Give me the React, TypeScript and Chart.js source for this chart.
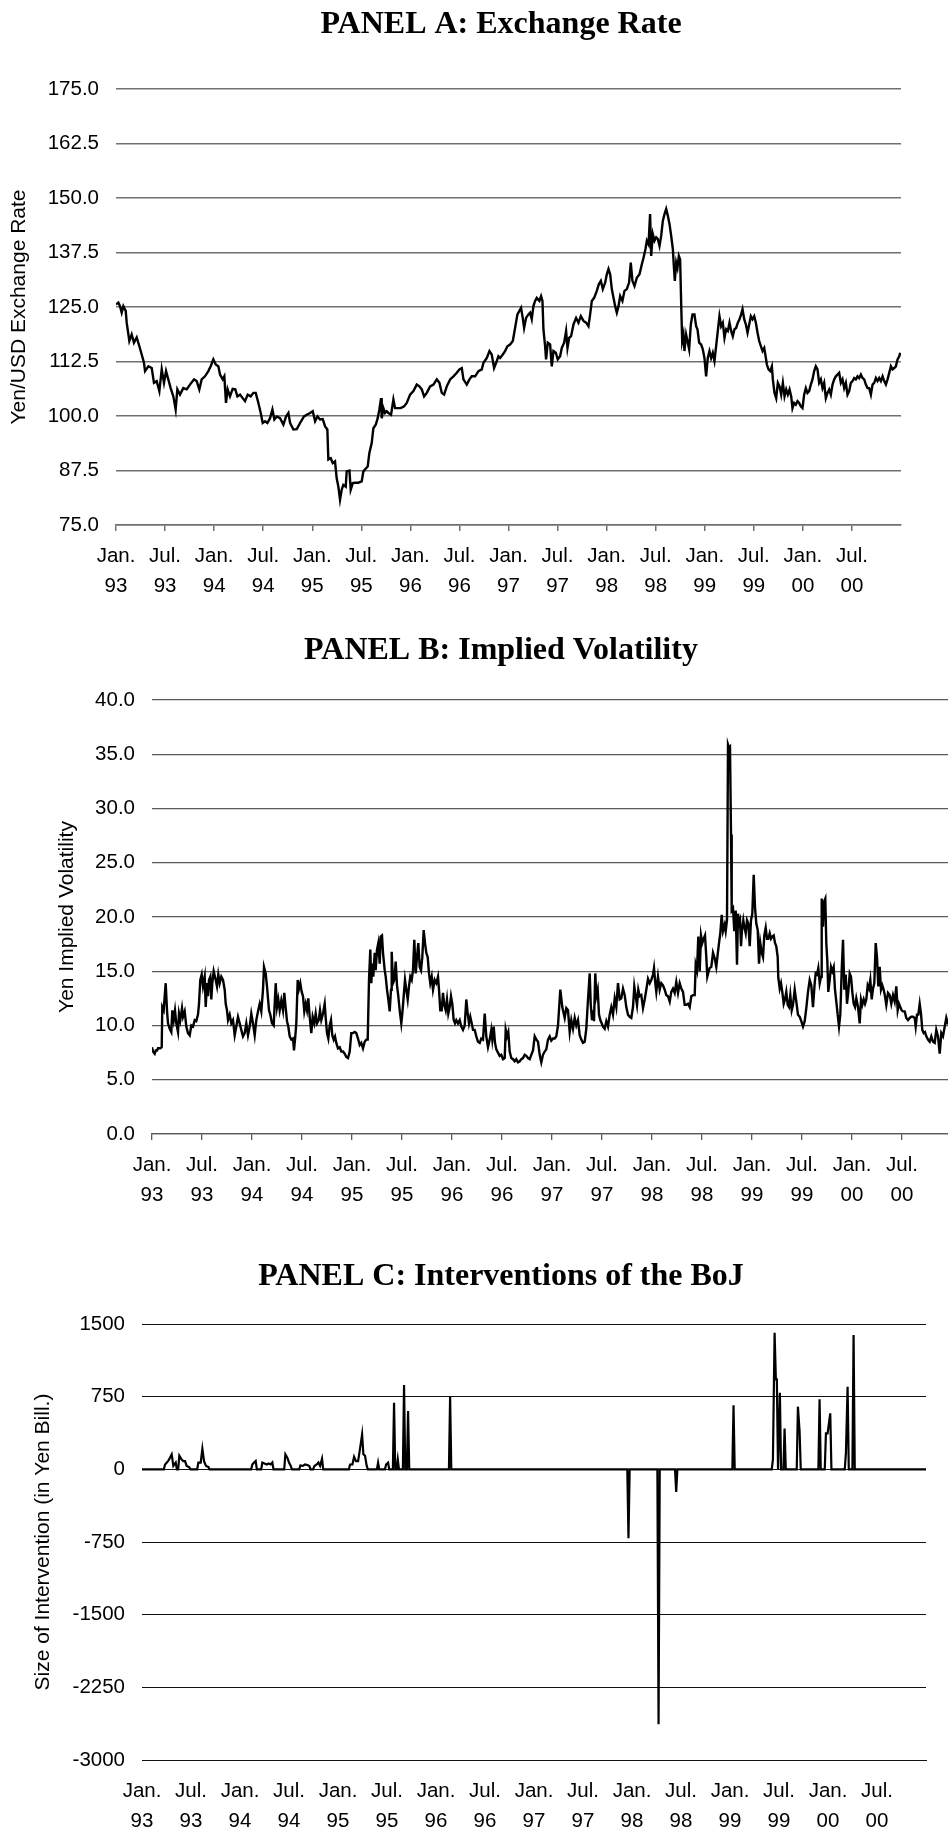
import React, { useEffect, useRef } from 'react';
import { Chart, registerables } from 'chart.js';

Chart.register(...registerables);

// ---------- DATA (years since Jan. 1993) ----------
const xTickMonths = ['Jan.', 'Jul.'];
const xTickFirstYear = 93;

const fxYears = [
  0.000, 0.024, 0.041, 0.058, 0.075, 0.099, 0.109, 0.136, 0.160, 0.183, 0.211, 0.238, 0.262, 0.285, 0.296, 0.330,
  0.364, 0.387, 0.415, 0.442, 0.466, 0.489, 0.510, 0.533, 0.557, 0.584, 0.608, 0.625, 0.652, 0.686, 0.720, 0.754,
  0.795, 0.822, 0.849, 0.873, 0.907, 0.941, 0.965, 0.992, 1.016, 1.043, 1.060, 1.087, 1.104, 1.121, 1.138, 1.162,
  1.189, 1.216, 1.237, 1.264, 1.291, 1.315, 1.342, 1.373, 1.400, 1.424, 1.451, 1.475, 1.495, 1.519, 1.543, 1.570,
  1.594, 1.614, 1.638, 1.672, 1.706, 1.733, 1.757, 1.774, 1.808, 1.842, 1.876, 1.916, 1.944, 1.978, 2.005, 2.029,
  2.053, 2.080, 2.107, 2.131, 2.154, 2.164, 2.188, 2.209, 2.232, 2.249, 2.266, 2.283, 2.300, 2.317, 2.341, 2.351,
  2.379, 2.392, 2.413, 2.436, 2.470, 2.504, 2.521, 2.548, 2.565, 2.582, 2.606, 2.623, 2.647, 2.667, 2.684, 2.701,
  2.708, 2.725, 2.742, 2.759, 2.776, 2.803, 2.827, 2.844, 2.868, 2.902, 2.936, 2.963, 2.997, 3.031, 3.065, 3.092,
  3.116, 3.140, 3.167, 3.201, 3.235, 3.269, 3.296, 3.320, 3.344, 3.371, 3.405, 3.439, 3.473, 3.500, 3.524, 3.541,
  3.575, 3.602, 3.626, 3.660, 3.694, 3.728, 3.745, 3.779, 3.806, 3.829, 3.853, 3.874, 3.897, 3.914, 3.942, 3.965,
  3.989, 4.016, 4.044, 4.067, 4.091, 4.111, 4.128, 4.145, 4.159, 4.179, 4.203, 4.220, 4.237, 4.254, 4.271, 4.288,
  4.315, 4.332, 4.346, 4.356, 4.373, 4.383, 4.400, 4.424, 4.441, 4.458, 4.482, 4.502, 4.526, 4.543, 4.567, 4.587,
  4.601, 4.618, 4.638, 4.662, 4.689, 4.713, 4.737, 4.764, 4.791, 4.815, 4.832, 4.849, 4.873, 4.900, 4.920, 4.941,
  4.961, 4.985, 5.002, 5.019, 5.036, 5.053, 5.070, 5.087, 5.104, 5.121, 5.138, 5.161, 5.182, 5.206, 5.229, 5.246,
  5.263, 5.284, 5.308, 5.335, 5.359, 5.376, 5.396, 5.410, 5.427, 5.443, 5.454, 5.471, 5.488, 5.505, 5.522, 5.539,
  5.556, 5.573, 5.590, 5.607, 5.624, 5.641, 5.658, 5.675, 5.685, 5.695, 5.709, 5.722, 5.736, 5.749, 5.760, 5.770,
  5.783, 5.793, 5.810, 5.824, 5.841, 5.858, 5.875, 5.895, 5.912, 5.926, 5.943, 5.963, 5.980, 5.997, 6.014, 6.031,
  6.048, 6.065, 6.082, 6.099, 6.116, 6.133, 6.150, 6.167, 6.184, 6.201, 6.218, 6.235, 6.252, 6.269, 6.286, 6.303,
  6.320, 6.337, 6.354, 6.371, 6.385, 6.402, 6.419, 6.436, 6.453, 6.470, 6.487, 6.504, 6.521, 6.538, 6.555, 6.572,
  6.589, 6.606, 6.623, 6.633, 6.650, 6.667, 6.684, 6.694, 6.711, 6.728, 6.745, 6.762, 6.779, 6.796, 6.813, 6.830,
  6.847, 6.864, 6.881, 6.894, 6.911, 6.928, 6.945, 6.962, 6.979, 6.996, 7.013, 7.030, 7.047, 7.064, 7.081, 7.098,
  7.115, 7.132, 7.149, 7.166, 7.183, 7.200, 7.217, 7.234, 7.251, 7.268, 7.285, 7.302, 7.319, 7.336, 7.353, 7.370,
  7.387, 7.404, 7.421, 7.438, 7.455, 7.472, 7.489, 7.506, 7.523, 7.540, 7.557, 7.574, 7.591, 7.608, 7.625, 7.642,
  7.659, 7.676, 7.693, 7.710, 7.727, 7.744, 7.761, 7.778, 7.795, 7.812, 7.829, 7.846, 7.863, 7.880, 7.897, 7.914,
  7.931, 7.948, 7.965, 7.982, 7.992,
];
const fxRates = [
  125.6, 126.0, 125.2, 123.7, 125.2, 124.1, 121.4, 117.2, 118.7, 116.8, 118.0, 116.0, 114.1, 112.2, 110.3, 111.4,
  111.0, 107.6, 108.0, 105.7, 110.7, 107.6, 110.3, 108.4, 106.4, 104.5, 101.5, 106.1, 104.9, 106.4, 106.1, 107.2,
  108.4, 108.0, 106.1, 108.4, 109.1, 110.3, 111.4, 113.0, 111.8, 111.4, 109.5, 108.4, 109.1, 103.0, 106.1, 104.5,
  106.2, 106.1, 104.5, 104.9, 104.1, 103.4, 104.9, 104.5, 105.3, 105.3, 103.0, 100.7, 98.4, 98.8, 98.4, 99.5,
  101.5, 99.2, 99.9, 99.5, 98.0, 99.9, 100.7, 98.4, 96.9, 97.0, 98.4, 99.9, 100.3, 100.7, 101.1, 98.8,
  99.9, 99.2, 99.3, 97.6, 96.9, 90.0, 90.3, 89.2, 89.6, 85.7, 83.8, 80.8, 83.1, 84.2, 83.8, 87.3,
  87.5, 83.1, 84.6, 84.7, 84.7, 85.0, 87.3, 88.0, 88.4, 91.5, 93.8, 97.2, 98.0, 99.5, 101.5, 104.1,
  99.5, 101.8, 100.7, 101.1, 100.7, 100.3, 103.8, 101.8, 101.8, 101.8, 102.2, 103.0, 104.9, 105.7, 107.2, 106.8,
  106.1, 104.5, 105.3, 106.8, 107.2, 108.4, 107.6, 105.3, 104.9, 106.8, 108.4, 109.1, 109.9, 110.7, 111.0, 108.4,
  107.2, 108.4, 109.1, 109.1, 110.3, 110.7, 112.2, 113.3, 114.9, 114.1, 111.0, 112.2, 113.7, 113.3, 114.1, 114.9,
  116.0, 116.4, 117.2, 120.2, 123.3, 124.1, 124.8, 122.5, 120.2, 122.5, 123.3, 123.7, 122.2, 125.2, 126.4, 127.1,
  126.4, 127.5, 126.4, 119.9, 116.0, 113.0, 116.8, 116.4, 111.4, 114.9, 114.5, 113.0, 113.7, 115.6, 116.8, 119.5,
  115.6, 117.9, 118.3, 121.0, 122.5, 121.4, 122.9, 121.8, 121.4, 120.6, 123.3, 126.4, 127.1, 128.7, 130.2, 131.0,
  129.1, 130.6, 132.5, 133.7, 132.5, 129.1, 127.1, 125.2, 123.7, 125.2, 127.5, 126.4, 128.7, 129.1, 130.6, 135.2,
  131.0, 129.8, 131.7, 132.5, 134.8, 136.3, 138.3, 140.2, 139.4, 146.3, 136.7, 141.7, 140.2, 141.0, 140.6, 139.0,
  141.3, 144.8, 146.3, 147.5, 145.9, 144.0, 141.3, 138.3, 134.4, 131.0, 135.2, 134.0, 136.7, 135.9, 125.6, 117.2,
  118.7, 114.9, 118.7, 117.2, 115.3, 121.0, 123.3, 123.3, 120.6, 119.9, 116.8, 116.4, 115.3, 113.3, 109.1, 113.3,
  114.9, 113.3, 114.5, 112.6, 116.0, 119.5, 122.9, 120.6, 121.4, 117.9, 119.9, 119.5, 121.4, 119.5, 118.3, 119.9,
  120.2, 121.4, 122.2, 123.3, 124.5, 122.2, 121.0, 119.1, 121.0, 122.9, 122.2, 122.9, 121.4, 119.1, 117.2, 116.0,
  114.9, 115.6, 113.3, 111.8, 110.7, 110.3, 111.4, 108.4, 105.3, 104.1, 107.6, 106.8, 104.9, 107.6, 104.5, 106.1,
  104.9, 106.1, 104.5, 101.8, 103.0, 102.6, 103.4, 103.0, 102.2, 101.8, 104.9, 106.4, 105.3, 105.7, 107.2, 108.4,
  110.3, 111.4, 110.7, 107.6, 108.4, 106.4, 107.6, 104.1, 105.3, 106.1, 104.9, 107.2, 108.4, 109.1, 109.5, 109.9,
  107.6, 108.4, 106.4, 107.6, 104.9, 105.7, 107.6, 108.0, 108.7, 108.4, 109.1, 108.7, 109.5, 108.7, 108.4, 107.2,
  106.4, 106.4, 104.9, 107.2, 107.6, 108.7, 108.0, 108.7, 108.0, 109.1, 108.0, 107.2, 108.4, 109.9, 111.4, 110.7,
  111.0, 111.4, 113.0, 113.7, 114.5,
];

const volYears = [
  0.000, 0.010, 0.027, 0.037, 0.050, 0.060, 0.083, 0.097, 0.103, 0.117, 0.127, 0.137, 0.150, 0.160, 0.177, 0.193,
  0.203, 0.217, 0.230, 0.243, 0.260, 0.270, 0.283, 0.300, 0.310, 0.327, 0.343, 0.360, 0.377, 0.393, 0.410, 0.427,
  0.443, 0.460, 0.470, 0.483, 0.497, 0.510, 0.527, 0.537, 0.550, 0.560, 0.570, 0.583, 0.593, 0.603, 0.617, 0.637,
  0.650, 0.663, 0.677, 0.693, 0.710, 0.727, 0.737, 0.750, 0.760, 0.777, 0.793, 0.810, 0.827, 0.843, 0.860, 0.877,
  0.893, 0.910, 0.927, 0.943, 0.960, 0.977, 0.993, 1.010, 1.027, 1.043, 1.060, 1.077, 1.093, 1.110, 1.120, 1.137,
  1.150, 1.170, 1.183, 1.200, 1.217, 1.227, 1.237, 1.250, 1.263, 1.277, 1.293, 1.310, 1.323, 1.337, 1.350, 1.363,
  1.377, 1.393, 1.410, 1.420, 1.433, 1.443, 1.457, 1.470, 1.483, 1.497, 1.510, 1.523, 1.537, 1.550, 1.563, 1.577,
  1.593, 1.607, 1.623, 1.637, 1.650, 1.667, 1.680, 1.693, 1.710, 1.727, 1.737, 1.750, 1.763, 1.777, 1.790, 1.803,
  1.817, 1.830, 1.843, 1.860, 1.877, 1.893, 1.910, 1.927, 1.943, 1.960, 1.977, 1.993, 2.010, 2.027, 2.043, 2.060,
  2.077, 2.093, 2.110, 2.127, 2.143, 2.157, 2.170, 2.183, 2.193, 2.203, 2.213, 2.227, 2.237, 2.250, 2.263, 2.277,
  2.287, 2.300, 2.310, 2.327, 2.337, 2.350, 2.363, 2.377, 2.390, 2.397, 2.410, 2.423, 2.437, 2.450, 2.463, 2.477,
  2.493, 2.503, 2.517, 2.530, 2.543, 2.557, 2.570, 2.583, 2.597, 2.610, 2.623, 2.637, 2.650, 2.663, 2.677, 2.690,
  2.703, 2.717, 2.730, 2.743, 2.757, 2.770, 2.783, 2.797, 2.810, 2.827, 2.843, 2.860, 2.870, 2.883, 2.897, 2.910,
  2.923, 2.937, 2.950, 2.963, 2.977, 2.990, 3.003, 3.017, 3.030, 3.043, 3.060, 3.077, 3.093, 3.110, 3.127, 3.143,
  3.157, 3.170, 3.183, 3.197, 3.210, 3.227, 3.243, 3.260, 3.277, 3.293, 3.310, 3.327, 3.343, 3.360, 3.377, 3.393,
  3.403, 3.417, 3.430, 3.443, 3.460, 3.477, 3.493, 3.510, 3.527, 3.537, 3.550, 3.563, 3.577, 3.593, 3.610, 3.627,
  3.643, 3.660, 3.677, 3.693, 3.710, 3.727, 3.743, 3.760, 3.777, 3.793, 3.810, 3.827, 3.843, 3.860, 3.877, 3.893,
  3.910, 3.927, 3.943, 3.960, 3.977, 3.993, 4.010, 4.027, 4.043, 4.060, 4.083, 4.103, 4.127, 4.143, 4.160, 4.177,
  4.193, 4.210, 4.227, 4.243, 4.260, 4.277, 4.293, 4.310, 4.327, 4.343, 4.360, 4.377, 4.387, 4.400, 4.410, 4.420,
  4.433, 4.443, 4.457, 4.470, 4.483, 4.497, 4.510, 4.527, 4.543, 4.560, 4.577, 4.593, 4.610, 4.627, 4.643, 4.660,
  4.677, 4.693, 4.710, 4.727, 4.743, 4.760, 4.777, 4.793, 4.810, 4.823, 4.837, 4.850, 4.863, 4.877, 4.893, 4.910,
  4.927, 4.943, 4.960, 4.977, 4.993, 5.010, 5.020, 5.033, 5.043, 5.060, 5.077, 5.093, 5.110, 5.127, 5.143, 5.160,
  5.177, 5.193, 5.210, 5.227, 5.243, 5.260, 5.277, 5.293, 5.310, 5.327, 5.343, 5.360, 5.377, 5.393, 5.410, 5.427,
  5.437, 5.450, 5.463, 5.477, 5.490, 5.503, 5.517, 5.530, 5.543, 5.553, 5.567, 5.577, 5.593, 5.610, 5.627, 5.643,
  5.660, 5.670, 5.683, 5.697, 5.710, 5.727, 5.737, 5.750, 5.760, 5.770, 5.780, 5.790, 5.797, 5.810, 5.823, 5.837,
  5.850, 5.860, 5.870, 5.880, 5.890, 5.900, 5.913, 5.923, 5.937, 5.950, 5.963, 5.977, 5.990, 6.003, 6.017, 6.030,
  6.043, 6.057, 6.070, 6.083, 6.097, 6.110, 6.123, 6.137, 6.150, 6.163, 6.177, 6.190, 6.203, 6.217, 6.230, 6.243,
  6.257, 6.263, 6.277, 6.290, 6.303, 6.317, 6.330, 6.343, 6.357, 6.370, 6.383, 6.397, 6.410, 6.427, 6.443, 6.460,
  6.477, 6.493, 6.510, 6.527, 6.543, 6.560, 6.577, 6.593, 6.610, 6.627, 6.637, 6.650, 6.663, 6.677, 6.690, 6.697,
  6.710, 6.720, 6.733, 6.743, 6.753, 6.763, 6.777, 6.790, 6.803, 6.817, 6.830, 6.843, 6.857, 6.870, 6.883, 6.897,
  6.910, 6.923, 6.937, 6.950, 6.963, 6.977, 6.990, 7.003, 7.017, 7.030, 7.043, 7.060, 7.077, 7.090, 7.103, 7.117,
  7.130, 7.143, 7.157, 7.170, 7.183, 7.197, 7.210, 7.223, 7.237, 7.250, 7.263, 7.277, 7.290, 7.303, 7.317, 7.330,
  7.343, 7.360, 7.377, 7.393, 7.410, 7.427, 7.443, 7.457, 7.470, 7.483, 7.497, 7.510, 7.527, 7.543, 7.560, 7.577,
  7.593, 7.610, 7.627, 7.637, 7.650, 7.663, 7.677, 7.690, 7.703, 7.717, 7.730, 7.743, 7.760, 7.777, 7.793, 7.810,
  7.827, 7.843, 7.860, 7.877, 7.893, 7.910, 7.927, 7.943, 7.957, 8.000,
];
const volValues = [
  8.0, 7.6, 7.4, 7.7, 7.7, 7.9, 7.9, 8.0, 11.7, 11.4, 12.7, 13.9, 11.4, 10.2, 9.7, 9.4,
  11.4, 10.5, 11.4, 10.2, 9.4, 11.1, 10.5, 11.6, 10.8, 11.3, 9.9, 9.3, 9.1, 10.0, 9.9, 10.5,
  10.4, 11.0, 12.0, 14.2, 14.7, 13.6, 14.5, 11.7, 13.9, 12.7, 14.2, 14.5, 12.4, 13.9, 15.0, 14.2,
  13.6, 14.7, 13.9, 14.5, 14.2, 13.3, 12.0, 11.4, 10.5, 11.0, 10.2, 10.5, 9.1, 9.9, 10.8, 10.2,
  9.6, 9.0, 9.3, 10.2, 9.1, 9.9, 11.1, 10.2, 9.1, 10.5, 11.3, 12.0, 11.3, 13.3, 15.4, 14.8,
  13.6, 11.4, 11.0, 10.2, 10.0, 12.0, 13.9, 11.7, 12.4, 11.4, 12.3, 11.4, 13.0, 11.6, 10.4, 9.9,
  9.0, 8.7, 8.8, 7.7, 9.0, 10.2, 14.2, 13.4, 13.9, 13.1, 12.7, 11.3, 12.0, 11.4, 12.5, 10.8,
  9.3, 10.8, 10.2, 11.1, 10.2, 10.5, 11.4, 10.5, 11.1, 12.0, 10.7, 9.3, 8.8, 10.0, 10.5, 9.1,
  8.7, 9.0, 8.4, 7.9, 8.0, 7.6, 7.6, 7.4, 7.1, 7.0, 7.6, 9.3, 9.3, 9.4, 9.3, 8.8,
  8.2, 8.4, 7.9, 8.5, 8.7, 8.7, 14.2, 17.0, 13.9, 15.7, 14.5, 16.7, 15.1, 17.0, 17.6, 15.7,
  18.2, 18.3, 16.7, 15.1, 14.5, 13.3, 12.4, 11.3, 13.3, 16.8, 13.9, 14.2, 15.9, 13.7, 12.7, 11.4,
  10.2, 11.1, 12.7, 14.2, 13.3, 12.4, 13.6, 14.5, 14.2, 15.1, 17.9, 14.8, 16.3, 17.6, 15.4, 15.1,
  16.3, 18.8, 17.6, 16.7, 16.3, 14.8, 13.9, 14.5, 13.3, 14.2, 13.9, 14.5, 13.3, 11.4, 11.4, 13.0,
  11.9, 11.4, 12.4, 11.1, 11.7, 12.7, 12.0, 10.5, 10.2, 10.5, 10.2, 10.5, 9.9, 9.6, 10.0, 12.4,
  11.1, 10.2, 10.8, 10.2, 9.6, 9.6, 9.0, 8.5, 8.4, 8.8, 8.7, 11.1, 9.0, 8.0, 8.7, 9.6,
  8.7, 9.9, 8.4, 7.8, 7.5, 7.2, 7.3, 6.9, 7.0, 9.6, 9.0, 9.4, 7.6, 7.0, 6.9, 6.7,
  6.9, 6.6, 6.7, 6.9, 7.0, 7.3, 7.2, 7.0, 6.9, 7.3, 7.7, 9.0, 8.7, 8.5, 7.3, 6.6,
  7.3, 7.6, 7.8, 8.7, 9.0, 8.6, 8.8, 8.8, 9.0, 10.0, 13.3, 11.7, 10.7, 11.6, 11.4, 9.4,
  10.5, 9.7, 10.7, 10.0, 10.5, 9.1, 8.7, 8.4, 8.5, 9.7, 12.4, 14.8, 12.0, 10.5, 11.4, 10.4,
  14.8, 12.7, 13.3, 11.0, 10.5, 10.2, 9.9, 9.7, 10.4, 9.9, 11.0, 11.7, 11.0, 12.5, 11.7, 13.9,
  12.4, 12.5, 13.4, 12.8, 11.7, 11.0, 10.8, 10.7, 11.7, 13.6, 12.7, 11.9, 13.3, 12.7, 12.8, 11.6,
  12.4, 13.3, 14.3, 13.9, 14.2, 14.7, 15.3, 13.9, 13.1, 14.5, 13.3, 13.9, 13.7, 13.3, 12.8, 12.7,
  12.2, 13.1, 13.4, 13.0, 14.0, 13.0, 13.9, 13.4, 13.1, 11.9, 11.9, 12.0, 11.7, 12.7, 12.8, 12.8,
  15.6, 15.1, 18.2, 15.0, 18.3, 17.6, 18.0, 18.3, 16.3, 14.5, 15.0, 15.3, 15.4, 16.7, 16.2, 15.4,
  16.8, 17.6, 18.5, 20.2, 18.7, 19.3, 18.7, 19.7, 35.9, 35.6, 35.7, 27.6, 20.6, 20.8, 18.7, 20.6,
  15.6, 20.3, 19.4, 19.7, 17.3, 18.8, 19.7, 19.1, 18.5, 19.7, 19.4, 17.3, 19.7, 20.3, 23.9, 20.9,
  19.4, 18.8, 15.7, 17.6, 16.7, 16.3, 18.3, 19.0, 18.0, 18.0, 18.5, 18.0, 18.2, 18.3, 17.6, 17.3,
  16.3, 14.4, 13.4, 13.9, 13.1, 12.0, 12.4, 13.1, 11.9, 11.7, 12.8, 11.4, 11.9, 13.3, 12.2, 11.0,
  10.8, 10.4, 9.9, 10.4, 11.6, 13.1, 14.2, 13.7, 11.7, 13.9, 14.8, 14.7, 15.3, 13.9, 14.5, 21.7,
  19.1, 21.4, 21.7, 17.6, 16.0, 13.1, 14.2, 15.4, 15.0, 15.4, 13.3, 12.2, 11.0, 9.9, 11.0, 15.1,
  17.9, 13.3, 14.7, 12.0, 13.1, 14.8, 14.5, 13.1, 12.0, 11.7, 12.5, 11.7, 10.2, 12.4, 11.9, 12.4,
  12.0, 12.4, 13.7, 13.4, 14.2, 12.4, 13.4, 13.9, 17.6, 16.3, 13.6, 15.4, 13.3, 13.7, 13.3, 12.7,
  11.9, 13.0, 12.8, 12.0, 12.8, 12.2, 13.6, 11.4, 12.0, 11.7, 11.4, 11.3, 11.3, 10.7, 10.5, 10.7,
  10.8, 10.8, 10.7, 9.9, 11.0, 11.0, 12.0, 11.1, 9.6, 9.3, 9.4, 9.0, 8.7, 8.5, 9.0, 8.5,
  8.4, 9.6, 9.0, 7.4, 9.3, 9.0, 9.9, 10.7, 10.2, 10.3,
];

const bojYears = [
  0.235, 0.245, 0.269, 0.286, 0.303, 0.320, 0.344, 0.381, 0.405, 0.422, 0.439, 0.456, 0.483,
  0.575, 0.599, 0.616, 0.633, 0.653, 0.677,
  1.126, 1.143, 1.160, 1.228, 1.249, 1.273, 1.293, 1.313, 1.330,
  1.463, 1.483, 1.500, 1.518, 1.616, 1.640, 1.664, 1.688, 1.708, 1.759, 1.783, 1.800, 1.817, 1.837,
  2.123, 2.147, 2.164, 2.184, 2.205, 2.225, 2.246, 2.259, 2.276, 2.293,
  2.409, 2.491, 2.511, 2.572, 2.610, 2.674, 2.715, 3.144,
  4.964, 5.271, 5.451,
  6.036, 6.438, 6.455, 6.468, 6.478, 6.509, 6.557, 6.693, 6.710, 6.914, 6.979, 6.996, 7.023, 7.183, 7.200, 7.261,
];
const bojAmounts = [
  50, 60, 90, 120, 155, 35, 70, 140, 100, 85, 85, 35, 20,
  70, 70, 213, 85, 35, 25,
  50, 70, 86, 70, 60, 50, 60, 50, 70,
  155, 120, 70, 35, 40, 35, 50, 45, 35, 35, 50, 70, 35, 110,
  50, 50, 130, 85, 85, 213, 361, 155, 140, 35,
  69, 50, 69, 688, 103, 870, 602, 746,
  -712, -2632, -234,
  660, 103, 1410, 929, 929, 791, 420, 647, 396, 722, 372, 372, 578, 172, 853, 1386,
];

const fxTicks = [75, 175, 12.5];
const volTicks = [0, 40, 5];
const bojTicks = [-3000, 1500, 750];

// ---------- helpers ----------
const SANS = '"Liberation Sans", Arial, sans-serif';
const SERIF = '"Liberation Serif", "Times New Roman", serif';

const toPoints = (xs: number[], ys: number[]) => xs.map((x, i) => ({ x, y: ys[i] }));

function spikeSeries(xs: number[], ys: number[], half: number) {
  const pts: { x: number; y: number }[] = [{ x: 0, y: 0 }];
  for (let i = 0; i < xs.length; i++) {
    const t = xs[i];
    const prevClose = i > 0 && t - xs[i - 1] < 2.5 * half;
    const nextClose = i < xs.length - 1 && xs[i + 1] - t < 2.5 * half;
    if (!prevClose) pts.push({ x: t - half, y: 0 });
    pts.push({ x: t, y: ys[i] });
    if (!nextClose) pts.push({ x: t + half, y: 0 });
  }
  pts.push({ x: 8, y: 0 });
  return pts;
}

const panelTitlePlugin = {
  id: 'panelTitle',
  afterDraw(chart: any, _args: any, opts: any) {
    if (!opts || !opts.text) return;
    const ctx = chart.ctx;
    ctx.save();
    ctx.font = `bold ${opts.size}px ${SERIF}`;
    ctx.fillStyle = '#000';
    ctx.textAlign = 'center';
    ctx.textBaseline = 'alphabetic';
    ctx.fillText(opts.text, opts.x, opts.y);
    ctx.restore();
  },
};

function xLabel(value: number) {
  const whole = Math.floor(value + 1e-6);
  const isJan = Math.abs(value - whole) < 1e-6;
  const yy = String((xTickFirstYear + whole) % 100).padStart(2, '0');
  return [isJan ? xTickMonths[0] : xTickMonths[1], yy];
}

function xScale(o: { height: number; drawTicks: boolean; padding: number; color: string; width: number }) {
  return {
    type: 'linear',
    min: 0,
    max: 8,
    afterBuildTicks: (s: any) => {
      s.ticks = s.ticks.filter((t: any) => t.value < 7.99);
    },
    afterFit: (s: any) => {
      s.height = o.height;
    },
    ticks: {
      stepSize: 0.5,
      autoSkip: false,
      maxRotation: 0,
      minRotation: 0,
      padding: o.padding,
      color: '#000',
      font: { family: SANS, size: 20.5, lineHeight: '30px' },
      callback: (v: any) => xLabel(Number(v)),
    },
    grid: {
      drawOnChartArea: false,
      drawTicks: o.drawTicks,
      tickLength: 6,
      color: o.color,
      lineWidth: o.width,
    },
    border: { display: true, color: o.color, width: o.width },
  };
}

function yScale(o: {
  range: number[];
  width: number;
  title: string;
  titleX: number;
  color: string;
  lineWidth: number;
  fmt: (v: number) => string;
}) {
  return {
    type: 'linear',
    min: o.range[0],
    max: o.range[1],
    afterFit: (s: any) => {
      s.width = o.width;
    },
    ticks: {
      stepSize: o.range[2],
      padding: 17,
      color: '#000',
      font: { family: SANS, size: 20.5 },
      callback: (v: any) => o.fmt(Number(v)),
    },
    grid: { drawTicks: false, color: o.color, lineWidth: o.lineWidth },
    border: { display: false },
    title: {
      display: true,
      text: o.title,
      color: '#000',
      font: { family: SANS, size: 21, lineHeight: 1.2 },
      padding: { top: o.titleX - 12.6, bottom: 0 },
    },
  };
}

function makeConfig(o: {
  points: { x: number; y: number }[];
  lineWidth: number;
  title: string;
  titleY: number;
  padTop: number;
  padRight: number;
  x: any;
  y: any;
}) {
  return {
    type: 'line',
    data: {
      datasets: [
        {
          data: o.points,
          borderColor: '#000',
          borderWidth: o.lineWidth,
          pointRadius: 0,
          pointHoverRadius: 0,
          tension: 0,
          fill: false,
          borderJoinStyle: 'miter',
        },
      ],
    },
    options: {
      animation: false,
      responsive: false,
      events: [],
      layout: { padding: { top: o.padTop, right: o.padRight, bottom: 0, left: 0 } },
      plugins: {
        legend: { display: false },
        tooltip: { enabled: false },
        title: { display: false },
        panelTitle: { text: o.title, x: 501, y: o.titleY, size: 32 },
      },
      scales: { x: o.x, y: o.y },
    },
    plugins: [panelTitlePlugin],
  };
}

function ChartCanvas({ config, top, height }: { config: any; top: number; height: number }) {
  const ref = useRef<HTMLCanvasElement | null>(null);
  useEffect(() => {
    if (!ref.current) return;
    const chart = new Chart(ref.current, config);
    return () => chart.destroy();
  }, [config]);
  return (
    <canvas
      ref={ref}
      width={1002}
      height={height}
      style={{ position: 'absolute', left: 0, top, width: 1002, height }}
    />
  );
}

const GRAY = '#707070';

const configA = makeConfig({
  points: toPoints(fxYears, fxRates),
  lineWidth: 2.4,
  title: 'PANEL A: Exchange Rate',
  titleY: 33,
  padTop: 89,
  padRight: 101,
  x: xScale({ height: 75, drawTicks: true, padding: 10, color: GRAY, width: 1.5 }),
  y: yScale({
    range: fxTicks,
    width: 116,
    title: 'Yen/USD Exchange Rate',
    titleX: 19,
    color: GRAY,
    lineWidth: 1.5,
    fmt: (v) => v.toFixed(1),
  }),
});

const configB = makeConfig({
  points: toPoints(volYears, volValues),
  lineWidth: 2.4,
  title: 'PANEL B: Implied Volatility',
  titleY: 59,
  padTop: 100,
  padRight: 50,
  x: xScale({ height: 86, drawTicks: true, padding: 10, color: '#5a5a5a', width: 1.3 }),
  y: yScale({
    range: volTicks,
    width: 152,
    title: 'Yen Implied Volatility',
    titleX: 67,
    color: '#5a5a5a',
    lineWidth: 1.3,
    fmt: (v) => v.toFixed(1),
  }),
});

const configC = makeConfig({
  points: spikeSeries(bojYears, bojAmounts, 0.012),
  lineWidth: 2.2,
  title: 'PANEL C: Interventions of the BoJ',
  titleY: 75,
  padTop: 114,
  padRight: 76,
  x: xScale({ height: 70, drawTicks: false, padding: 16.5, color: '#111', width: 1 }),
  y: yScale({
    range: bojTicks,
    width: 142,
    title: 'Size of Intervention (in Yen Bill.)',
    titleX: 43,
    color: '#111',
    lineWidth: 1,
    fmt: (v) => String(Math.round(v)),
  }),
});

export default function App() {
  return (
    <div
      style={{
        position: 'absolute',
        left: 0,
        top: 0,
        width: 948,
        height: 1830,
        overflow: 'hidden',
        background: '#fff',
      }}
    >
      <ChartCanvas config={configA} top={0} height={600} />
      <ChartCanvas config={configB} top={600} height={620} />
      <ChartCanvas config={configC} top={1210} height={620} />
    </div>
  );
}
